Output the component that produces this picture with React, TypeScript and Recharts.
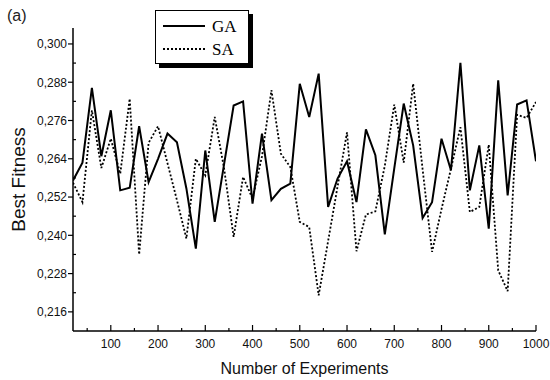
import { Line, LineChart, XAxis, YAxis } from "recharts";

// experiment counts along x
const experiments = [
  20, 40, 60, 80, 100, 120, 140, 160, 180, 200,
  220, 240, 260, 280, 300, 320, 340, 360, 380, 400,
  420, 440, 460, 480, 500, 520, 540, 560, 580, 600,
  620, 640, 660, 680, 700, 720, 740, 760, 780, 800,
  820, 840, 860, 880, 900, 920, 940, 960, 980, 1000,
];

const gaFitness = [
  0.2572, 0.2628, 0.2862, 0.2648, 0.2792, 0.2541, 0.2549, 0.2742, 0.2567, 0.264,
  0.2719, 0.2692, 0.2547, 0.2358, 0.2666, 0.2442, 0.2625, 0.2807, 0.282, 0.2499,
  0.2719, 0.251, 0.2546, 0.2562, 0.2875, 0.2771, 0.2907, 0.2489, 0.2578, 0.2632,
  0.2504, 0.2732, 0.2651, 0.2403, 0.261, 0.2813, 0.2682, 0.2454, 0.2504, 0.2703,
  0.2604, 0.2941, 0.2541, 0.2682, 0.2421, 0.2886, 0.2525, 0.281, 0.2823, 0.2632,
];

const saFitness = [
  0.2565, 0.2504, 0.2792, 0.2611, 0.2703, 0.2593, 0.2828, 0.234, 0.269, 0.2742,
  0.2626, 0.251, 0.239, 0.264, 0.2588, 0.2771, 0.2608, 0.2395, 0.2583, 0.2515,
  0.2648, 0.2855, 0.2656, 0.2614, 0.2442, 0.2426, 0.2212, 0.2382, 0.2553, 0.2723,
  0.235, 0.2465, 0.2475, 0.2618, 0.281, 0.2628, 0.2875, 0.2607, 0.2348, 0.2482,
  0.2609, 0.2739, 0.2473, 0.2489, 0.2684, 0.229, 0.2225, 0.2778, 0.2768, 0.2818,
];

const xTicks = [50, 100, 150, 200, 250, 300, 350, 400, 450, 500, 550, 600, 650, 700, 750, 800, 850, 900, 950, 1000];
const yMajorTicks = [0.216, 0.228, 0.24, 0.252, 0.264, 0.276, 0.288, 0.3];
const yMinorTicks = [0.222, 0.234, 0.246, 0.258, 0.27, 0.282, 0.294];

const data = experiments.map((n, i) => ({ n, GA: gaFitness[i], SA: saFitness[i] }));

const SANS = "'Liberation Sans', Arial, sans-serif";
const SERIF = "'Liberation Serif', 'Times New Roman', serif";

function XTick({ x, y, payload }: any) {
  const major = payload.value % 100 === 0;
  return (
    <g>
      <line x1={x} x2={x} y1={y} y2={y - (major ? 6 : 3)} stroke="#000" strokeWidth={1.2} />
      {major && (
        <text x={x} y={y + 17} textAnchor="middle" fontSize={12} fill="#111" fontFamily={SANS}>
          {payload.value}
        </text>
      )}
    </g>
  );
}

function YTick({ x, y, payload }: any) {
  const v = payload.value;
  if (!yMajorTicks.includes(v)) {
    return <line x1={x} x2={x + 3} y1={y} y2={y} stroke="#000" strokeWidth={1.2} />;
  }
  return (
    <g>
      <line x1={x - 5} x2={x} y1={y} y2={y} stroke="#000" strokeWidth={1.2} />
      <text x={x - 6} y={y} dy="0.36em" textAnchor="end" fontSize={12} fill="#111" fontFamily={SANS}>
        {v.toFixed(3).replace(".", ",")}
      </text>
    </g>
  );
}

function LegendBox() {
  return (
    <div
      style={{
        position: "absolute",
        left: 155,
        top: 10,
        width: 92,
        height: 52,
        border: "1px solid #000",
        boxShadow: "4px 4px 0 #000",
        background: "#fff",
      }}
    >
      <svg width={92} height={52} style={{ position: "absolute", left: 0, top: 0 }}>
        <line x1={7} x2={49} y1={15} y2={15} stroke="#000" strokeWidth={2} />
        <line x1={7} x2={49} y1={38} y2={38} stroke="#000" strokeWidth={1.8} strokeDasharray="2 2" />
        <text x={56} y={21} fontSize={17} fontFamily={SERIF} fill="#000">GA</text>
        <text x={56} y={44} fontSize={17} fontFamily={SERIF} fill="#000">SA</text>
      </svg>
    </div>
  );
}

export default function App() {
  return (
    <div style={{ position: "absolute", left: 0, top: 0, width: 550, height: 380, background: "#fff" }}>
      <div style={{ position: "absolute", left: 7, top: 7, fontSize: 16, fontFamily: SANS, color: "#222" }}>
        (a)
      </div>
      <LineChart width={550} height={380} data={data} margin={{ top: 28, right: 14, bottom: 0, left: 0 }}>
        <XAxis
          dataKey="n"
          type="number"
          domain={[20, 1000]}
          allowDataOverflow
          ticks={xTicks}
          interval={0}
          height={49}
          tickSize={0}
          tickMargin={0}
          tickLine={false}
          tick={<XTick />}
          axisLine={{ stroke: "#000", strokeWidth: 1.5 }}
          label={{
            value: "Number of Experiments",
            position: "insideBottom",
            offset: 6,
            style: { fontSize: 16, fontFamily: SANS, fill: "#111" },
          }}
        />
        <YAxis
          type="number"
          domain={[0.21, 0.305]}
          allowDataOverflow
          ticks={[...yMajorTicks, ...yMinorTicks].sort((a, b) => a - b)}
          interval={0}
          width={73}
          tickSize={0}
          tickMargin={0}
          tickLine={false}
          tick={<YTick />}
          axisLine={{ stroke: "#000", strokeWidth: 1.5 }}
          label={{
            value: "Best Fitness",
            angle: -90,
            position: "insideLeft",
            offset: 18,
            style: { textAnchor: "middle", fontSize: 19, fontFamily: SANS, fill: "#111" },
          }}
        />
        <Line
          type="linear"
          dataKey="SA"
          stroke="#000"
          strokeWidth={1.8}
          strokeDasharray="2 2"
          dot={false}
          activeDot={false}
          isAnimationActive={false}
        />
        <Line
          type="linear"
          dataKey="GA"
          stroke="#000"
          strokeWidth={2}
          dot={false}
          activeDot={false}
          isAnimationActive={false}
        />
      </LineChart>
      <LegendBox />
    </div>
  );
}
